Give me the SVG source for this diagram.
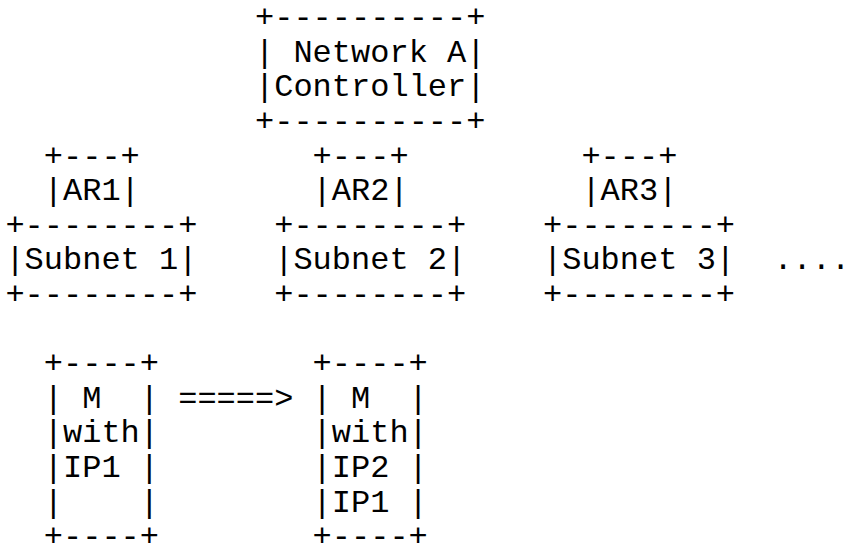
<svg xmlns="http://www.w3.org/2000/svg" width="846" height="545" viewBox="0 0 846 545">
<style>
text{font-family:"Liberation Mono","DejaVu Sans Mono",monospace;font-size:32px;fill:#000;white-space:pre}
</style>
<rect width="846" height="545" fill="#fff"/>
<g id="controller" xml:space="preserve">
<text x="255.0" y="27.1">+----------+</text>
<text x="255.0" y="61.7">| Network A|</text>
<text x="255.0" y="96.3">|Controller|</text>
<text x="255.0" y="130.9">+----------+</text>
</g>
<g id="ar1" xml:space="preserve">
<text x="43.8" y="165.5">+---+</text>
<text x="43.8" y="200.1">|AR1|</text>
</g>
<g id="ar2" xml:space="preserve">
<text x="312.6" y="165.5">+---+</text>
<text x="312.6" y="200.1">|AR2|</text>
</g>
<g id="ar3" xml:space="preserve">
<text x="581.4" y="165.5">+---+</text>
<text x="581.4" y="200.1">|AR3|</text>
</g>
<g id="subnet1" xml:space="preserve">
<text x="5.4" y="234.7">+--------+</text>
<text x="5.4" y="269.3">|Subnet 1|</text>
<text x="5.4" y="303.9">+--------+</text>
</g>
<g id="subnet2" xml:space="preserve">
<text x="274.2" y="234.7">+--------+</text>
<text x="274.2" y="269.3">|Subnet 2|</text>
<text x="274.2" y="303.9">+--------+</text>
</g>
<g id="subnet3" xml:space="preserve">
<text x="543.0" y="234.7">+--------+</text>
<text x="543.0" y="269.3">|Subnet 3|</text>
<text x="543.0" y="303.9">+--------+</text>
</g>
<g id="more" xml:space="preserve">
<text x="773.4" y="269.3">....</text>
</g>
<g id="m-before" xml:space="preserve">
<text x="43.8" y="373.1">+----+</text>
<text x="43.8" y="407.7">| M  |</text>
<text x="43.8" y="442.3">|with|</text>
<text x="43.8" y="476.9">|IP1 |</text>
<text x="43.8" y="511.5">|    |</text>
<text x="43.8" y="546.1">+----+</text>
</g>
<g id="m-after" xml:space="preserve">
<text x="312.6" y="373.1">+----+</text>
<text x="312.6" y="407.7">| M  |</text>
<text x="312.6" y="442.3">|with|</text>
<text x="312.6" y="476.9">|IP2 |</text>
<text x="312.6" y="511.5">|IP1 |</text>
<text x="312.6" y="546.1">+----+</text>
</g>
<g id="connectors" xml:space="preserve">
<text x="178.2" y="407.7">=====&gt;</text>
</g>
</svg>
